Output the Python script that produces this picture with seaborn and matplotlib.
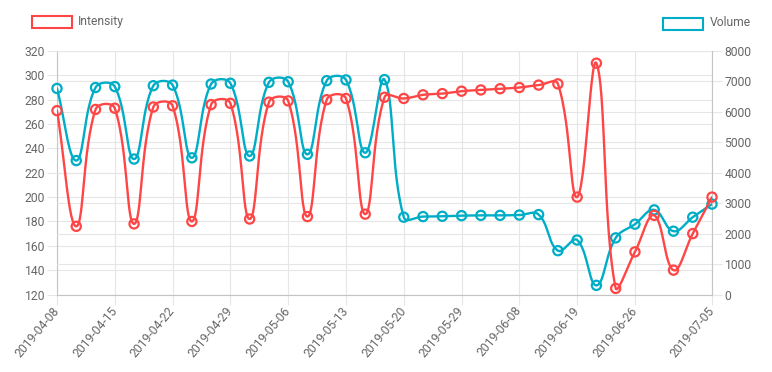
import numpy as np
import pandas as pd
import matplotlib
matplotlib.use("Agg")
import matplotlib.pyplot as plt
from matplotlib.patches import Rectangle
import seaborn as sns

# tick labels shown on the category axis (every 3rd point, plus the last one)
tick_labels = ['2019-04-08', '2019-04-15', '2019-04-22', '2019-04-29', '2019-05-06',
               '2019-05-13', '2019-05-20', '2019-05-29', '2019-06-08', '2019-06-19',
               '2019-06-26', '2019-07-05']

intensity = [271, 176, 272, 273, 178, 274, 275, 180, 276, 277, 182, 278, 279, 184,
             280, 281, 186, 282, 281, 284, 285, 287, 288, 289, 290, 292, 293, 200,
             310, 125, 155, 185, 140, 170, 200]

volume = [6770, 4400, 6800, 6830, 4450, 6860, 6880, 4490, 6915, 6940, 4550, 6970,
          6990, 4605, 7025, 7050, 4656, 7060, 2540, 2560, 2570, 2590, 2600, 2600,
          2610, 2625, 1440, 1790, 300, 1860, 2310, 2780, 2080, 2540, 2970]

RED = '#ff4646'
CYAN = '#00adc6'
TXT = '#666666'
GRID = '#e6e6e6'
AXIS = '#c4c4c4'


def spline_points(ax, xs, ys, tension=0.4, steps=30):
    # Chart.js style cardinal spline, computed in pixel space
    pts = ax.transData.transform(np.column_stack([xs, ys]))
    n = len(pts)
    x0, y0, x1, y1 = ax.bbox.extents
    cp_prev = np.zeros_like(pts)
    cp_next = np.zeros_like(pts)
    for i in range(n):
        prev = pts[max(i - 1, 0)]
        cur = pts[i]
        nxt = pts[min(i + 1, n - 1)]
        d01 = np.hypot(*(cur - prev))
        d12 = np.hypot(*(nxt - cur))
        tot = d01 + d12
        s01 = d01 / tot if tot else 0
        s12 = d12 / tot if tot else 0
        cp_prev[i] = cur - tension * s01 * (nxt - prev)
        cp_next[i] = cur + tension * s12 * (nxt - prev)
    for cp in (cp_prev, cp_next):
        cp[:, 0] = np.clip(cp[:, 0], x0, x1)
        cp[:, 1] = np.clip(cp[:, 1], y0, y1)
    t = np.linspace(0, 1, steps)[:, None]
    segs = []
    for i in range(n - 1):
        p0, p1, p2, p3 = pts[i], cp_next[i], cp_prev[i + 1], pts[i + 1]
        seg = ((1 - t) ** 3) * p0 + 3 * ((1 - t) ** 2) * t * p1 + 3 * (1 - t) * t ** 2 * p2 + t ** 3 * p3
        segs.append(seg if i == 0 else seg[1:])
    curve = ax.transData.inverted().transform(np.vstack(segs))
    return pd.DataFrame({'x': curve[:, 0], 'y': curve[:, 1]})


sns.set_theme(style="white")
plt.rcParams['font.family'] = ['Roboto', 'DejaVu Sans']

fig = plt.figure(figsize=(7.72, 3.72), dpi=100)
rect = [57 / 772, 1 - 294.5 / 372, 655 / 772, 243.5 / 372]

# base axes: left scale, x/left grid; twin: right scale + its grid
base = fig.add_axes(rect, zorder=0)
gridr = base.twinx()
gridr.set_zorder(1)
# data axes drawn on top of all grid lines
ax_cyan = fig.add_axes(rect, sharex=base, sharey=gridr, zorder=2)
ax_red = fig.add_axes(rect, sharex=base, sharey=base, zorder=3)

idx = np.arange(len(intensity))
base.set_xlim(0, len(intensity) - 1)
base.set_ylim(120, 320)
gridr.set_ylim(0, 8000)
base.set_yticks(range(120, 321, 20))
gridr.set_yticks(range(0, 8001, 1000))

tick_pos = list(range(0, 31, 3)) + [len(intensity) - 1]
base.set_xticks(tick_pos)
base.set_xticklabels(tick_labels, rotation=50, ha='right', va='center',
                     rotation_mode='anchor')

base.grid(True, axis='both', color=GRID, lw=0.8)
gridr.grid(True, axis='y', color=GRID, lw=0.8)

for a in (base, gridr):
    for s in a.spines.values():
        s.set_visible(False)
    a.tick_params(colors=TXT, labelsize=8.7, length=7, width=0.8)
    a.tick_params(color=GRID)
base.spines['left'].set_visible(True)
base.spines['bottom'].set_visible(True)
gridr.spines['right'].set_visible(True)
for s in (base.spines['left'], base.spines['bottom'], gridr.spines['right']):
    s.set_color(AXIS)
    s.set_linewidth(0.8)
base.tick_params(axis='y', left=True, pad=1.5)
base.tick_params(axis='x', bottom=True, pad=3)
gridr.tick_params(axis='y', right=True, pad=2)

red_curve = spline_points(ax_red, idx, intensity)
cyan_curve = spline_points(ax_cyan, idx, volume)

sns.lineplot(data=cyan_curve, x='x', y='y', ax=ax_cyan, color=CYAN, lw=1.7,
             sort=False, estimator=None)
sns.scatterplot(x=idx, y=volume, ax=ax_cyan, s=44, facecolor='none',
                edgecolor=CYAN, linewidth=1.6, zorder=3, clip_on=False)
sns.lineplot(data=red_curve, x='x', y='y', ax=ax_red, color=RED, lw=1.7,
             sort=False, estimator=None)
sns.scatterplot(x=idx, y=intensity, ax=ax_red, s=44, facecolor='none',
                edgecolor=RED, linewidth=1.6, zorder=3, clip_on=False)

for a in (ax_cyan, ax_red):
    a.axis('off')

# legends, one at each corner
fig.patches.append(Rectangle((32 / 772, 1 - 28 / 372), 40 / 772, 12 / 372,
                             transform=fig.transFigure, fill=False,
                             edgecolor=RED, lw=1.5))
fig.text(78 / 772, 1 - 21 / 372, 'Intensity', color=TXT, fontsize=8.7, va='center')
fig.patches.append(Rectangle((663 / 772, 1 - 30 / 372), 40 / 772, 12 / 372,
                             transform=fig.transFigure, fill=False,
                             edgecolor=CYAN, lw=1.5))
fig.text(710 / 772, 1 - 23 / 372, 'Volume', color=TXT, fontsize=8.7, va='center')

fig.savefig('out.png', dpi=100)
